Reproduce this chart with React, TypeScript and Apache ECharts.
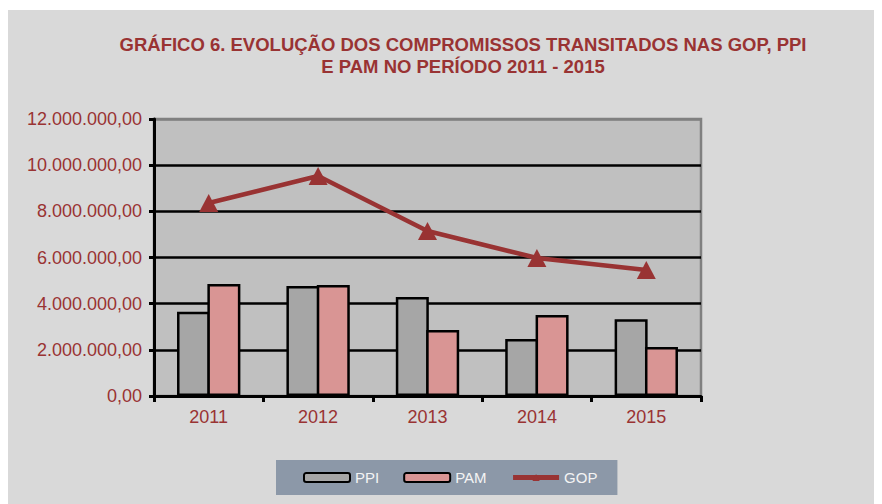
import React, { useEffect, useRef } from "react";
import * as echarts from "echarts";

const categories = ["2011", "2012", "2013", "2014", "2015"];
const ppiValues = [3650000, 4760000, 4290000, 2470000, 3330000];
const pamValues = [4850000, 4810000, 2860000, 3510000, 2120000];
const gopValues = [8360000, 9530000, 7150000, 5980000, 5460000];
const titleLines = [
  "GRÁFICO 6. EVOLUÇÃO DOS COMPROMISSOS TRANSITADOS NAS GOP, PPI",
  "E PAM NO PERÍODO 2011 - 2015",
];

function fmt(v: number): string {
  const intPart = Math.round(v).toString();
  const withDots = intPart.replace(/\B(?=(\d{3})+(?!\d))/g, ".");
  return withDots + ",00";
}

const RED = "#993333";

export default function App() {
  const ref = useRef<HTMLDivElement>(null);
  useEffect(() => {
    if (!ref.current) return;
    const chart = echarts.init(ref.current, null, { renderer: "svg" });
    chart.setOption({
      animation: false,
      backgroundColor: "#d9d9d9",
      textStyle: { fontFamily: "Liberation Sans, Arial, sans-serif" },
      graphic: [
        {
          type: "text",
          x: 455,
          y: 23,
          style: {
            text: titleLines.join("\n"),
            fill: RED,
            font: "bold 18.5px 'Liberation Sans Narrow', 'Arial Narrow', 'Liberation Sans', sans-serif",
            align: "center",
            verticalAlign: "top",
            lineHeight: 22,
          },
        },
      ],
      legend: {
        left: 268,
        top: 450,
        orient: "horizontal",
        backgroundColor: "#8c98a8",
        padding: [10, 20, 10, 27],
        itemGap: 24,
        itemWidth: 46,
        itemHeight: 9,
        textStyle: { color: "#f4f4f4", fontSize: 15, padding: [0, 0, 0, 0] },
        data: [
          { name: "PPI" },
          { name: "PAM" },
          { name: "GOP", lineStyle: { width: 5, color: RED } },
        ],
      },
      grid: {
        left: 146,
        top: 109,
        width: 547,
        height: 277,
        show: true,
        backgroundColor: "#c0c0c0",
        borderColor: "#808080",
        borderWidth: 2.5,
      },
      xAxis: {
        type: "category",
        data: categories,
        boundaryGap: true,
        axisLine: { lineStyle: { color: "#000", width: 3 } },
        axisTick: { show: true, length: 6, lineStyle: { color: "#000", width: 3 } },
        axisLabel: { color: RED, fontSize: 18, margin: 12 },
      },
      yAxis: {
        type: "value",
        min: 0,
        max: 12000000,
        interval: 2000000,
        axisLine: { show: true, lineStyle: { color: "#000", width: 3 } },
        axisTick: { show: true, length: 5, lineStyle: { color: "#000", width: 3 } },
        axisLabel: { color: RED, fontSize: 18, margin: 12, formatter: (v: number) => fmt(v) },
        splitLine: {
          show: true,
          lineStyle: {
            color: ["#000", "#000", "#000", "#000", "#000", "#000", "#808080"],
            width: 2.5,
          },
        },
      },
      series: [
        {
          name: "PPI",
          type: "bar",
          data: ppiValues,
          barWidth: 33,
          barGap: "-8%",
          itemStyle: { color: "#a6a6a6", borderColor: "#000", borderWidth: 2.5 },
        },
        {
          name: "PAM",
          type: "bar",
          data: pamValues,
          barWidth: 33,
          barGap: "-8%",
          itemStyle: { color: "#d99594", borderColor: "#000", borderWidth: 2.5 },
        },
        {
          name: "GOP",
          type: "line",
          data: gopValues,
          symbol: "triangle",
          symbolSize: [19, 18],
          lineStyle: { color: RED, width: 4.5 },
          itemStyle: { color: RED },
          z: 5,
        },
      ],
    });
    return () => chart.dispose();
  }, []);
  return (
    <div
      ref={ref}
      style={{ width: 874, height: 494, marginTop: 2 }}
    />
  );
}
